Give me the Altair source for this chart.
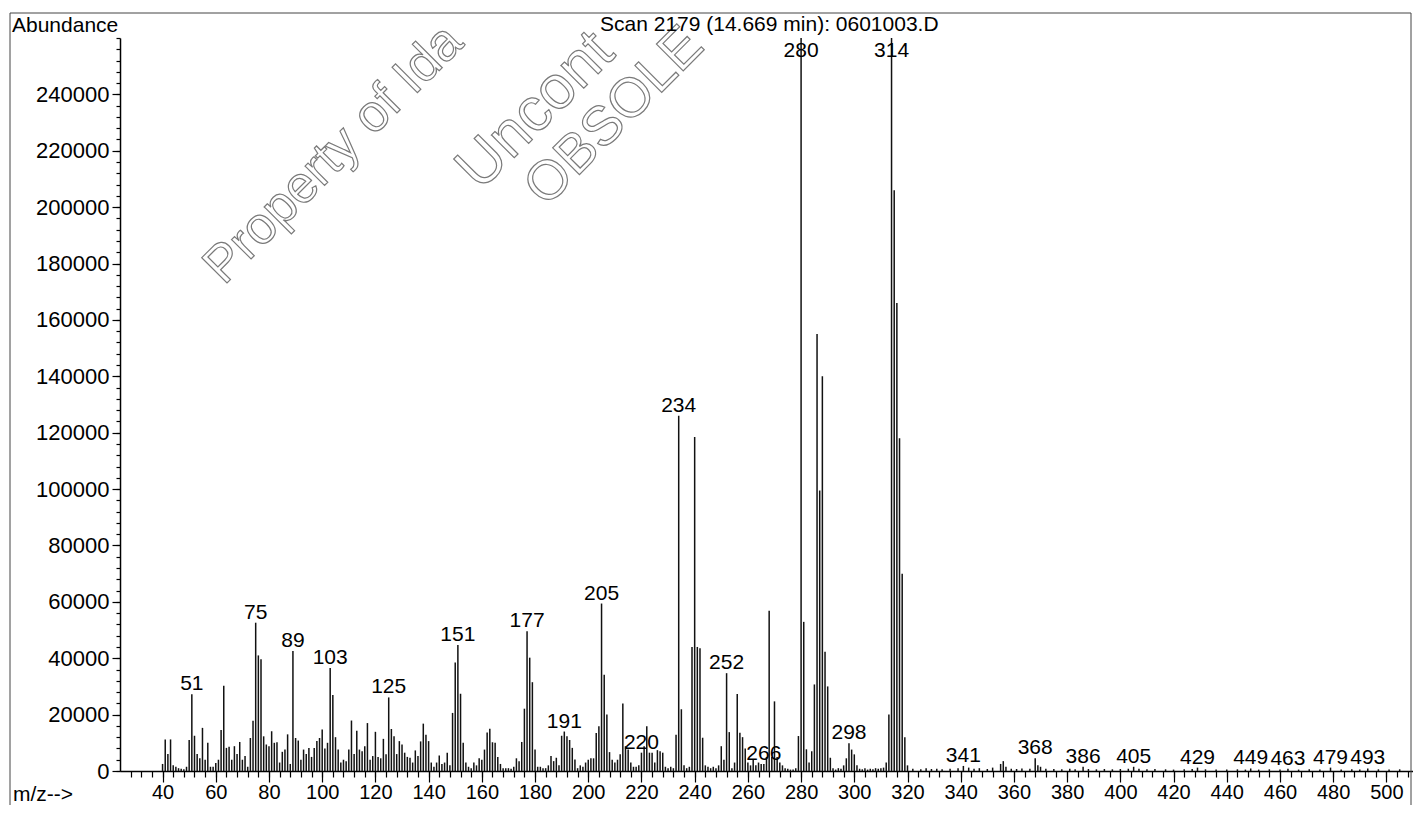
import altair as alt
import pandas as pd

# ---- spectrum data (m/z, abundance) ----
mz = [40, 41, 42, 43, 44, 45, 46, 47, 48, 49, 50, 51, 52, 53, 54, 55, 56, 57, 58, 59,
      60, 61, 62, 63, 64, 65, 66, 67, 68, 69, 70, 71, 72, 73, 74, 75, 76, 77, 78, 79,
      80, 81, 82, 83, 84, 85, 86, 87, 88, 89, 90, 91, 92, 93, 94, 95, 96, 97, 98, 99,
      100, 101, 102, 103, 104, 105, 106, 107, 108, 109, 110, 111, 112, 113, 114, 115, 116, 117, 118, 119,
      120, 121, 122, 123, 124, 125, 126, 127, 128, 129, 130, 131, 132, 133, 134, 135, 136, 137, 138, 139,
      140, 141, 142, 143, 144, 145, 146, 147, 148, 149, 150, 151, 152, 153, 154, 155, 156, 157, 158, 159,
      160, 161, 162, 163, 164, 165, 166, 167, 168, 169, 170, 171, 172, 173, 174, 175, 176, 177, 178, 179,
      180, 181, 182, 183, 184, 185, 186, 187, 188, 189, 190, 191, 192, 193, 194, 195, 196, 197, 198, 199,
      200, 201, 202, 203, 204, 205, 206, 207, 208, 209, 210, 211, 212, 213, 214, 215, 216, 217, 218, 219,
      220, 221, 222, 223, 224, 225, 226, 227, 228, 229, 230, 231, 232, 233, 234, 235, 236, 237, 238, 239,
      240, 241, 242, 243, 244, 245, 246, 247, 248, 249, 250, 251, 252, 253, 254, 255, 256, 257, 258, 259,
      260, 261, 262, 263, 264, 265, 266, 267, 268, 269, 270, 271, 272, 273, 274, 275, 276, 277, 278, 279,
      280, 281, 282, 283, 284, 285, 286, 287, 288, 289, 290, 291, 292, 293, 294, 295, 296, 297, 298, 299,
      300, 301, 302, 303, 304, 305, 306, 307, 308, 309, 310, 311, 312, 313, 314, 315, 316, 317, 318, 319,
      320, 322, 325, 327, 329, 331, 333, 336, 339, 341, 343, 345, 347, 350, 352, 355, 356, 357, 359, 361,
      363, 366, 368, 369, 370, 372, 375, 378, 381, 383, 386, 388, 391, 394, 397, 400, 403, 405, 407, 410,
      413, 417, 420, 424, 427, 429, 432, 436, 440, 444, 447, 449, 452, 456, 460, 463, 467, 471, 475, 479,
      483, 487, 490, 493, 497, 501, 505]
abundance = [2500, 11200, 6000, 11200, 2000, 1500, 1000, 800, 600, 1500, 11000, 27200, 12500, 6000, 4500, 15300, 4000, 10000, 1500, 1500,
             2800, 4000, 14500, 30200, 8200, 8600, 4000, 8800, 6000, 10300, 4000, 5300, 1500, 11700, 17800, 52600, 41000, 39600, 12300, 9400,
             8800, 14100, 10000, 10200, 3000, 6800, 7600, 13000, 2500, 42600, 11700, 10800, 4000, 7600, 6000, 8200, 5000, 8200, 10600, 11700,
             14700, 8000, 10000, 36500, 27000, 12000, 7600, 3000, 4000, 3500, 7600, 17900, 6000, 14300, 7600, 7000, 8800, 17000, 4000, 5300,
             13900, 5000, 4500, 11400, 5900, 26100, 14900, 12300, 6000, 10600, 9400, 6500, 5000, 4700, 3000, 7300, 5300, 10500, 16800, 12900,
             10600, 3000, 1500, 3000, 5500, 2500, 3000, 6500, 2000, 20600, 38500, 44700, 27400, 10000, 3000, 1500, 1000, 3000, 2000, 4500,
             4000, 7600, 13700, 15000, 10200, 10000, 5000, 2500, 1000, 1000, 1000, 800, 1500, 4500, 3500, 10300, 22100, 49600, 40200, 31500,
             7600, 1500, 1500, 1000, 1000, 2000, 5300, 3500, 4700, 2000, 12500, 14000, 12300, 11000, 8200, 4100, 1000, 2000, 1500, 3000,
             4000, 4500, 4500, 13500, 15900, 59400, 34100, 20000, 6700, 4000, 3000, 4000, 5900, 23900, 8800, 7600, 3000, 1500, 1500, 2000,
             6500, 8800, 15900, 6500, 6500, 3000, 7400, 7000, 6500, 1500, 1000, 1500, 1000, 12900, 126000, 21900, 2000, 1000, 1500, 44000,
             118500, 44000, 43500, 11800, 2000, 1500, 1000, 1500, 1000, 2000, 8800, 4000, 34700, 13800, 1000, 3000, 27300, 13600, 12000, 8000,
             3000, 2000, 4000, 2000, 3000, 2500, 2500, 5000, 56800, 5000, 24700, 5000, 3000, 2000, 1000, 800, 500, 500, 1000, 12400,
             265000, 52900, 7700, 3000, 7000, 30700, 155000, 99500, 140000, 42300, 30000, 4700, 1000, 500, 1000, 800, 2000, 4500, 9800, 7600,
             5900, 2000, 800, 600, 1000, 500, 800, 600, 1000, 800, 1000, 1200, 3000, 20000, 262000, 206000, 166000, 118000, 70000, 12000,
             2000, 800, 600, 1000, 700, 800, 600, 800, 1000, 1800, 1200, 800, 1000, 700, 1200, 2500, 3500, 1500, 800, 700,
             900, 800, 4500, 2000, 1500, 800, 700, 600, 800, 600, 1500, 700, 600, 700, 600, 700, 800, 1500, 800, 600,
             700, 600, 500, 600, 700, 1200, 600, 500, 500, 600, 500, 900, 500, 600, 500, 800, 500, 600, 500, 1200,
             500, 600, 500, 900, 600, 500, 600]

label_mz = [51, 75, 89, 103, 125, 151, 177, 191, 205, 220, 234, 252, 266, 280, 298, 314,
            341, 368, 386, 405, 429, 449, 463, 479, 493]

x_major = list(range(40, 501, 20))
x_minor = list(range(28, 509, 4))
y_major = list(range(0, 240001, 20000))
y_minor = list(range(0, 260001, 4000))

title_text = ["Scan 2179 (14.669 min): 0601003.D"]
y_title = ["Abundance"]
x_title = ["m/z-->"]
# visible parts of the diagonal stamp
watermark = ["Property of Ida", "Uncont", "OBSOLE"]

FONT = "Liberation Sans"
W, H = 1293, 733

x_scale = alt.Scale(domain=[24, 510], nice=False, zero=False)
y_scale = alt.Scale(domain=[0, 260000], nice=False, clamp=True)

df = pd.DataFrame({"mz": mz, "abundance": abundance})
lookup = dict(zip(mz, abundance))
lab = pd.DataFrame({
    "mz": label_mz,
    "label": [str(m) for m in label_mz],
    "ly": [min(lookup[m], 252000) for m in label_mz],
})

bars = alt.Chart(df).mark_rule(color="#111111", strokeWidth=1.5).encode(
    x=alt.X("mz:Q", scale=x_scale,
            axis=alt.Axis(values=x_major, tickSize=11, labelPadding=0, title=None,
                          grid=False, orient="bottom", format="d", labelFlush=False,
                          labelFontSize=20)),
    y=alt.Y("abundance:Q", scale=y_scale,
            axis=alt.Axis(values=y_major, tickSize=8, labelPadding=3, title=None,
                          grid=False, orient="left", format="d", labelFontSize=22)),
    y2=alt.datum(0),
)

labels = alt.Chart(lab).mark_text(font=FONT, fontSize=21, baseline="alphabetic",
                                  dy=-4, color="black").encode(
    x=alt.X("mz:Q", scale=x_scale,
            axis=alt.Axis(values=x_minor, tickSize=6, labels=False, domain=False,
                          title=None, grid=False, orient="bottom")),
    y=alt.Y("ly:Q", scale=y_scale,
            axis=alt.Axis(values=y_minor, tickSize=4, labels=False, domain=False,
                          title=None, grid=False, orient="left")),
    text="label:N",
)


def deco(texts, x, y, **kw):
    props = dict(align="left", baseline="middle", font=FONT, fontSize=21, color="black")
    props.update(kw)
    return alt.Chart(pd.DataFrame({"t": texts})).mark_text(**props).encode(
        x=alt.value(x), y=alt.value(y), text="t:N")


frame = alt.Chart(pd.DataFrame({"a": [0]})).mark_rect(
    fillOpacity=0, stroke="#444444", strokeWidth=1).encode(
    x=alt.value(-110), x2=alt.value(1291), y=alt.value(-25), y2=alt.value(790))

wm_style = dict(align="left", baseline="alphabetic", angle=315,
                fill="white", fillOpacity=0, stroke="#7a7a7a", strokeWidth=1.2)
wm1 = deco([watermark[0]], 104, 248, fontSize=52, **wm_style)
wm2 = deco([watermark[1]], 360, 154, fontSize=61, **wm_style)
wm3 = deco([watermark[2]], 426, 170, fontSize=55, **wm_style)

t_title = deco(title_text, 480, -13)
t_y = deco(y_title, -108, -12)
t_x = deco(x_title, -107, 757)

chart = alt.layer(frame, wm1, wm2, wm3, bars, labels, t_title, t_y, t_x).resolve_axis(
    x="independent", y="independent"
).properties(
    width=W, height=H,
    padding={"left": 112, "top": 30, "right": 0, "bottom": 34},
    autosize=alt.AutoSizeParams(type="none"),
).configure_view(stroke=None).configure_axis(
    labelFont=FONT, labelFontSize=21, labelColor="black",
    tickColor="black", domainColor="black", domainWidth=1.5, tickWidth=1.2,
)

chart.save("out.html", embed_options={"renderer": "svg", "actions": False})
